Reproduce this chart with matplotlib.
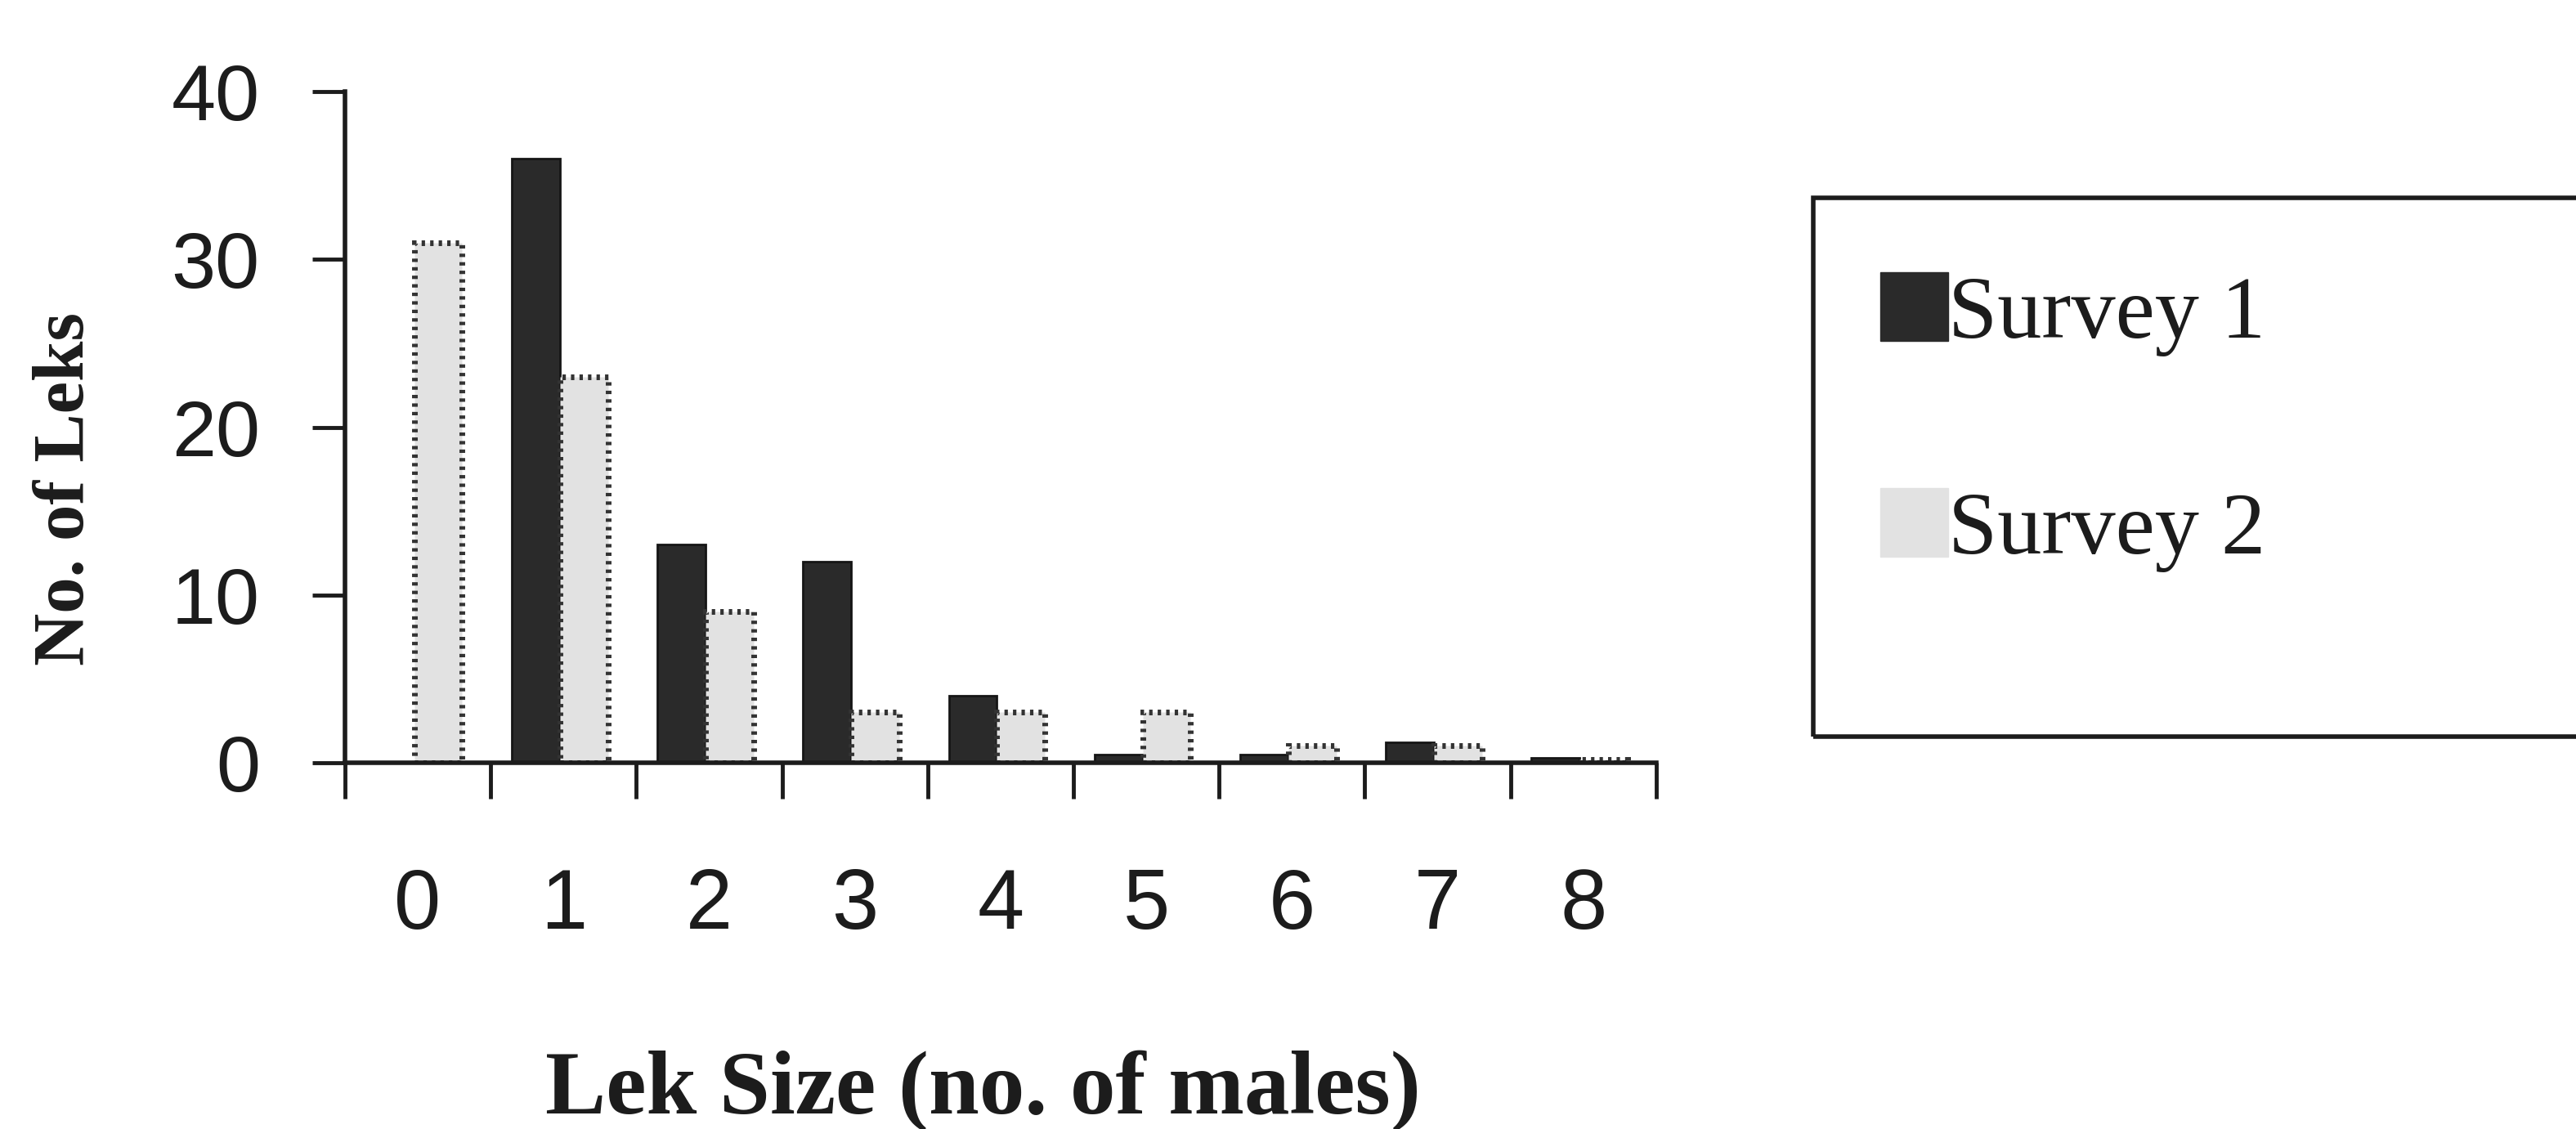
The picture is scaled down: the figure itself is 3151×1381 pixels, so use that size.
import numpy as np
import matplotlib.pyplot as plt
from matplotlib.patches import Patch, Rectangle

# lek counts by size class, two surveys
lek_sizes = ["0", "1", "2", "3", "4", "5", "6", "7", "8"]
survey1 = [0, 36, 13, 12, 4, 0.5, 0.5, 1.2, 0.3]
survey2 = [31, 23, 9, 3, 3, 3, 1, 1, 0.2]

dark = "#2a2a2a"
light = "#e2e2e2"
ink = "#1c1c1c"

fig = plt.figure(figsize=(31.51, 13.81), dpi=100)
ax = fig.add_axes([0.1339, 0.3244, 0.509, 0.5945])

x = np.arange(len(lek_sizes))
width = 0.33
ax.bar(x - 0.19, survey1, width, color=dark, edgecolor="#151515", linewidth=2)
ax.bar(x + 0.14, survey2, width, color=light, edgecolor="#333333",
       linewidth=5, linestyle=(0, (0.6, 0.9)))

ax.set_xlim(-0.5, len(lek_sizes) - 0.5)
ax.set_ylim(0, 40)

for side in ["top", "right"]:
    ax.spines[side].set_visible(False)
for side in ["left", "bottom"]:
    ax.spines[side].set_linewidth(4)
    ax.spines[side].set_color(ink)

# y ticks
ax.set_yticks([0, 10, 20, 30, 40])
ax.tick_params(axis="y", direction="out", length=29, width=3.5, color=ink,
               pad=46, labelsize=70, labelcolor=ink)
for lbl in ax.get_yticklabels():
    lbl.set_family("Liberation Sans")

# x: boundary ticks unlabeled, category labels on minor ticks
ax.set_xticks(np.arange(-0.5, len(lek_sizes), 1.0))
ax.set_xticklabels([])
ax.set_xticks(x, minor=True)
ax.set_xticklabels(lek_sizes, minor=True)
ax.tick_params(axis="x", which="major", direction="out", length=32, width=3.5, color=ink)
ax.tick_params(axis="x", which="minor", length=0, pad=92, labelsize=74, labelcolor=ink)
for lbl in ax.get_xticklabels(minor=True):
    lbl.set_family("Liberation Sans")

fig.text(0.0254, 0.567, "No. of Leks", rotation=90, ha="center", va="center",
         family="Liberation Serif", weight="bold", fontsize=64, color=ink)
fig.text(0.3817, 0.0138, "Lek Size (no. of males)", ha="center", va="baseline",
         family="Liberation Serif", weight="bold", fontsize=80, color=ink)

# legend box runs off the right edge
fig.add_artist(Rectangle((0.7039, 0.3476), 0.35, 0.4772, transform=fig.transFigure,
                         fill=False, edgecolor=ink, linewidth=4))
handles = [Patch(facecolor=dark, edgecolor=dark), Patch(facecolor=light, edgecolor=light)]
fig.legend(handles, ["Survey 1", "Survey 2"], loc="center left",
           bbox_to_anchor=(0.7299, 0.626), frameon=False, borderaxespad=0,
           prop={"family": "Liberation Serif", "size": 78},
           handlelength=0.77, handleheight=0.82, handletextpad=0.0,
           borderpad=0, labelspacing=1.49, labelcolor=ink)

fig.savefig("out.png", dpi=100, facecolor="white")
